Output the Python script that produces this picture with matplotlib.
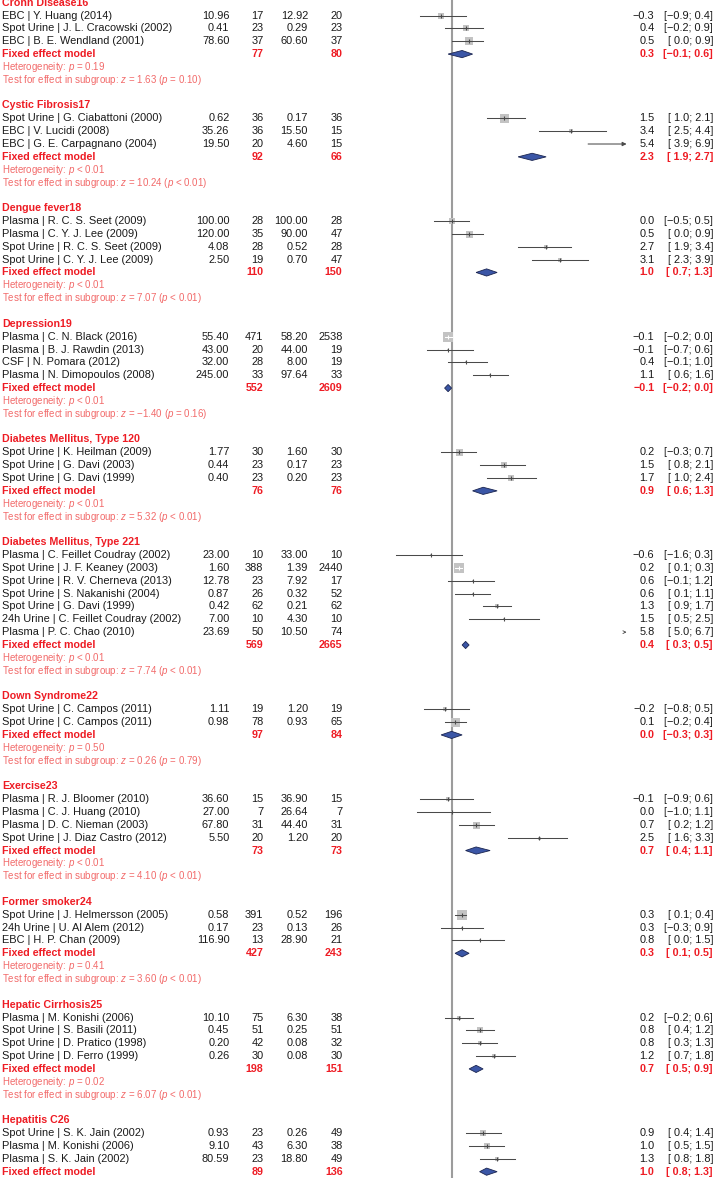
import matplotlib
matplotlib.use("Agg")
import matplotlib.pyplot as plt
from matplotlib.patches import Polygon

plt.rcParams["font.family"] = ["Liberation Sans", "DejaVu Sans"]
plt.rcParams["mathtext.fontset"] = "custom"
plt.rcParams["mathtext.rm"] = "Liberation Sans"
plt.rcParams["mathtext.it"] = "Liberation Sans:italic"

# ---- data ----
groups = ["Crohn Disease16", "Cystic Fibrosis17", "Dengue fever18", "Depression19",
          "Diabetes Mellitus, Type 120", "Diabetes Mellitus, Type 221", "Down Syndrome22",
          "Exercise23", "Former smoker24", "Hepatic Cirrhosis25", "Hepatitis C26"]
group_size = [3, 3, 4, 4, 3, 7, 2, 4, 3, 4, 3]

study_label = [
    "EBC | Y. Huang (2014)", "Spot Urine | J. L. Cracowski (2002)", "EBC | B. E. Wendland (2001)",
    "Spot Urine | G. Ciabattoni (2000)", "EBC | V. Lucidi (2008)", "EBC | G. E. Carpagnano (2004)",
    "Plasma | R. C. S. Seet (2009)", "Plasma | C. Y. J. Lee (2009)",
    "Spot Urine | R. C. S. Seet (2009)", "Spot Urine | C. Y. J. Lee (2009)",
    "Plasma | C. N. Black (2016)", "Plasma | B. J. Rawdin (2013)", "CSF | N. Pomara (2012)",
    "Plasma | N. Dimopoulos (2008)",
    "Spot Urine | K. Heilman (2009)", "Spot Urine | G. Davi (2003)", "Spot Urine | G. Davi (1999)",
    "Plasma | C. Feillet Coudray (2002)", "Spot Urine | J. F. Keaney (2003)",
    "Spot Urine | R. V. Cherneva (2013)", "Spot Urine | S. Nakanishi (2004)",
    "Spot Urine | G. Davi (1999)", "24h Urine | C. Feillet Coudray (2002)", "Plasma | P. C. Chao (2010)",
    "Spot Urine | C. Campos (2011)", "Spot Urine | C. Campos (2011)",
    "Plasma | R. J. Bloomer (2010)", "Plasma | C. J. Huang (2010)", "Plasma | D. C. Nieman (2003)",
    "Spot Urine | J. Diaz Castro (2012)",
    "Spot Urine | J. Helmersson (2005)", "24h Urine | U. Al Alem (2012)", "EBC | H. P. Chan (2009)",
    "Plasma | M. Konishi (2006)", "Spot Urine | S. Basili (2011)", "Spot Urine | D. Pratico (1998)",
    "Spot Urine | D. Ferro (1999)",
    "Spot Urine | S. K. Jain (2002)", "Plasma | M. Konishi (2006)", "Plasma | S. K. Jain (2002)",
]
mean_e = [10.96, 0.41, 78.60, 0.62, 35.26, 19.50, 100.00, 120.00, 4.08, 2.50,
          55.40, 43.00, 32.00, 245.00, 1.77, 0.44, 0.40,
          23.00, 1.60, 12.78, 0.87, 0.42, 7.00, 23.69, 1.11, 0.98,
          36.60, 27.00, 67.80, 5.50, 0.58, 0.17, 116.90,
          10.10, 0.45, 0.20, 0.26, 0.93, 9.10, 80.59]
n_e = [17, 23, 37, 36, 36, 20, 28, 35, 28, 19,
       471, 20, 28, 33, 30, 23, 23,
       10, 388, 23, 26, 62, 10, 50, 19, 78,
       15, 7, 31, 20, 391, 23, 13,
       75, 51, 42, 30, 23, 43, 23]
mean_c = [12.92, 0.29, 60.60, 0.17, 15.50, 4.60, 100.00, 90.00, 0.52, 0.70,
          58.20, 44.00, 8.00, 97.64, 1.60, 0.17, 0.20,
          33.00, 1.39, 7.92, 0.32, 0.21, 4.30, 10.50, 1.20, 0.93,
          36.90, 26.64, 44.40, 1.20, 0.52, 0.13, 28.90,
          6.30, 0.25, 0.08, 0.08, 0.26, 6.30, 18.80]
n_c = [20, 23, 37, 36, 15, 15, 28, 47, 28, 47,
       2538, 19, 19, 33, 30, 23, 23,
       10, 2440, 17, 52, 62, 10, 74, 19, 65,
       15, 7, 31, 20, 196, 26, 21,
       38, 51, 32, 30, 49, 38, 49]
smd = [-0.3, 0.4, 0.5, 1.5, 3.4, 5.4, 0.0, 0.5, 2.7, 3.1,
       -0.1, -0.1, 0.4, 1.1, 0.2, 1.5, 1.7,
       -0.6, 0.2, 0.6, 0.6, 1.3, 1.5, 5.8, -0.2, 0.1,
       -0.1, 0.0, 0.7, 2.5, 0.3, 0.3, 0.8,
       0.2, 0.8, 0.8, 1.2, 0.9, 1.0, 1.3]
smd_lo = [-0.9, -0.2, 0.0, 1.0, 2.5, 3.9, -0.5, 0.0, 1.9, 2.3,
          -0.2, -0.7, -0.1, 0.6, -0.3, 0.8, 1.0,
          -1.6, 0.1, -0.1, 0.1, 0.9, 0.5, 5.0, -0.8, -0.2,
          -0.9, -1.0, 0.2, 1.6, 0.1, -0.3, 0.0,
          -0.2, 0.4, 0.3, 0.7, 0.4, 0.5, 0.8]
smd_hi = [0.4, 0.9, 0.9, 2.1, 4.4, 6.9, 0.5, 0.9, 3.4, 3.9,
          0.0, 0.6, 1.0, 1.6, 0.7, 2.1, 2.4,
          0.3, 0.3, 1.2, 1.1, 1.7, 2.5, 6.7, 0.5, 0.4,
          0.6, 1.1, 1.2, 3.3, 0.4, 0.9, 1.5,
          0.6, 1.2, 1.3, 1.8, 1.4, 1.5, 1.8]
# study weight shown as square side (px)
weight = [5.3, 6.3, 7.3, 9, 5, 0, 6.5, 7, 4, 4,
          10, 2, 2, 2, 7, 6, 6,
          2, 10, 2, 2.5, 3.5, 1.5, 0, 5, 9,
          5, 2, 7, 3, 10, 2, 1.5,
          5, 6, 5, 4, 6, 6, 5]

pooled = [0.3, 2.3, 1.0, -0.1, 0.9, 0.4, 0.0, 0.7, 0.3, 0.7, 1.0]
pooled_lo = [-0.1, 1.9, 0.7, -0.2, 0.6, 0.3, -0.3, 0.4, 0.1, 0.5, 0.8]
pooled_hi = [0.6, 2.7, 1.3, 0.0, 1.3, 0.5, 0.3, 1.1, 0.5, 0.9, 1.3]
pooled_ne = [77, 92, 110, 552, 76, 569, 97, 73, 427, 198, 89]
pooled_nc = [80, 66, 150, 2609, 76, 2665, 84, 73, 243, 151, 136]
het_p = ["= 0.19", "< 0.01", "< 0.01", "< 0.01", "< 0.01", "< 0.01", "= 0.50",
         "< 0.01", "= 0.41", "= 0.02", None]
test_z = ["1.63", "10.24", "7.07", "\u22121.40", "5.32", "7.74", "0.26", "4.10", "3.60", "6.07", None]
test_p = ["= 0.10", "< 0.01", "< 0.01", "= 0.16", "< 0.01", "< 0.01", "= 0.79",
          "< 0.01", "< 0.01", "< 0.01", None]

# ---- styling ----
RED = "#ee1c24"
LIGHTRED = "#f26a6a"
INK = "#1a1a1a"
SQUARE = "#c3c3c3"
CI_COL = "#4a4a4a"
DIAMOND = "#3b56a6"
REFLINE = "#9c9c9c"

W, H = 714, 1178
ROW0, PITCH = 2.7, 12.846
ZERO_PX, UNIT_PX = 451.6, 35.0
XMIN, XMAX = -1.8, 5.0

FS = 7.9
FS_BOLD = 7.65
FS_SMALL = 7.05

fig = plt.figure(figsize=(W / 100, H / 100), dpi=100)
ytop = -ROW0 / PITCH
ybot = (H - ROW0) / PITCH

tax = fig.add_axes([0, 0, 1, 1])
tax.set_xlim(0, W)
tax.set_ylim(ybot, ytop)
tax.axis("off")

left_px = ZERO_PX + XMIN * UNIT_PX
right_px = ZERO_PX + XMAX * UNIT_PX
ax = fig.add_axes([left_px / W, 0, (right_px - left_px) / W, 1])
ax.set_xlim(XMIN, XMAX)
ax.set_ylim(ybot, ytop)
ax.axis("off")
ax.patch.set_alpha(0)
ax.axvline(0, color=REFLINE, lw=1.5, zorder=1)

COL_LABEL, COL_ME, COL_NE, COL_MC, COL_NC = 2.5, 229.5, 263.5, 308.0, 342.5
COL_TE, COL_CI = 654.5, 713.0


def fmt(v):
    s = "%.1f" % v
    return s.replace("-", "\u2212")


def ci_text(lo, hi):
    a = fmt(lo)
    if lo >= 0:
        a = " " + a
    return "[%s; %s]" % (a, fmt(hi))


def txt(x, y, s, ha="left", color=INK, size=FS, bold=False):
    tax.text(x, y, s, ha=ha, va="center", fontsize=FS_BOLD if bold else size, color=color,
             fontweight="bold" if bold else "normal")


r = 0
k = 0
for g, name in enumerate(groups):
    txt(COL_LABEL, r, name, color=RED, bold=True)
    r += 1
    for _ in range(group_size[g]):
        txt(COL_LABEL, r, study_label[k])
        txt(COL_ME, r, "%.2f" % mean_e[k], ha="right")
        txt(COL_NE, r, str(n_e[k]), ha="right")
        txt(COL_MC, r, "%.2f" % mean_c[k], ha="right")
        txt(COL_NC, r, str(n_c[k]), ha="right")
        txt(COL_TE, r, fmt(smd[k]), ha="right")
        txt(COL_CI, r, ci_text(smd_lo[k], smd_hi[k]), ha="right")

        lo, hi, est = smd_lo[k], smd_hi[k], smd[k]
        half = weight[k] / 2 / UNIT_PX
        if lo >= XMAX:
            ax.annotate("", xy=(XMAX, r), xytext=(XMAX - 0.06, r),
                        arrowprops=dict(arrowstyle="->", color=CI_COL, lw=0.6,
                                        mutation_scale=5, shrinkA=0, shrinkB=0))
        else:
            if weight[k] > 0:
                ax.scatter([est], [r], marker="s", s=(weight[k] * 0.72) ** 2,
                           color=SQUARE, linewidths=0, zorder=3)
            inside = (est - lo) <= half and (hi - est) <= half
            col = "white" if inside else CI_COL
            if hi > XMAX:
                ax.annotate("", xy=(XMAX, r), xytext=(lo, r),
                            arrowprops=dict(arrowstyle="-|>", color=CI_COL, lw=0.75,
                                            mutation_scale=6, shrinkA=0, shrinkB=0),
                            zorder=4)
            else:
                ax.plot([lo, hi], [r, r], color=col, lw=0.75, zorder=4)
                ax.scatter([est], [r], marker="|", s=9, color=col, linewidths=0.8, zorder=5)
        k += 1
        r += 1

    # fixed effect model
    txt(COL_LABEL, r, "Fixed effect model", color=RED, bold=True)
    txt(COL_NE, r, str(pooled_ne[g]), ha="right", color=RED, bold=True)
    txt(COL_NC, r, str(pooled_nc[g]), ha="right", color=RED, bold=True)
    txt(COL_TE, r, fmt(pooled[g]), ha="right", color=RED, bold=True)
    txt(COL_CI, r, ci_text(pooled_lo[g], pooled_hi[g]), ha="right", color=RED, bold=True)
    dh = 3.6 / PITCH
    ax.add_patch(Polygon([(pooled_lo[g], r), (pooled[g], r - dh), (pooled_hi[g], r),
                          (pooled[g], r + dh)], closed=True, facecolor=DIAMOND,
                         edgecolor="#1b2550", lw=0.6, zorder=4))
    r += 1
    if het_p[g] is not None:
        txt(COL_LABEL, r, "Heterogeneity: $p$ %s" % het_p[g], color=LIGHTRED, size=FS_SMALL)
        r += 1
        txt(COL_LABEL, r, "Test for effect in subgroup: $z$ = %s ($p$ %s)" % (test_z[g], test_p[g]),
            color=LIGHTRED, size=FS_SMALL)
        r += 2

fig.savefig("out.png", dpi=100, facecolor="white")
